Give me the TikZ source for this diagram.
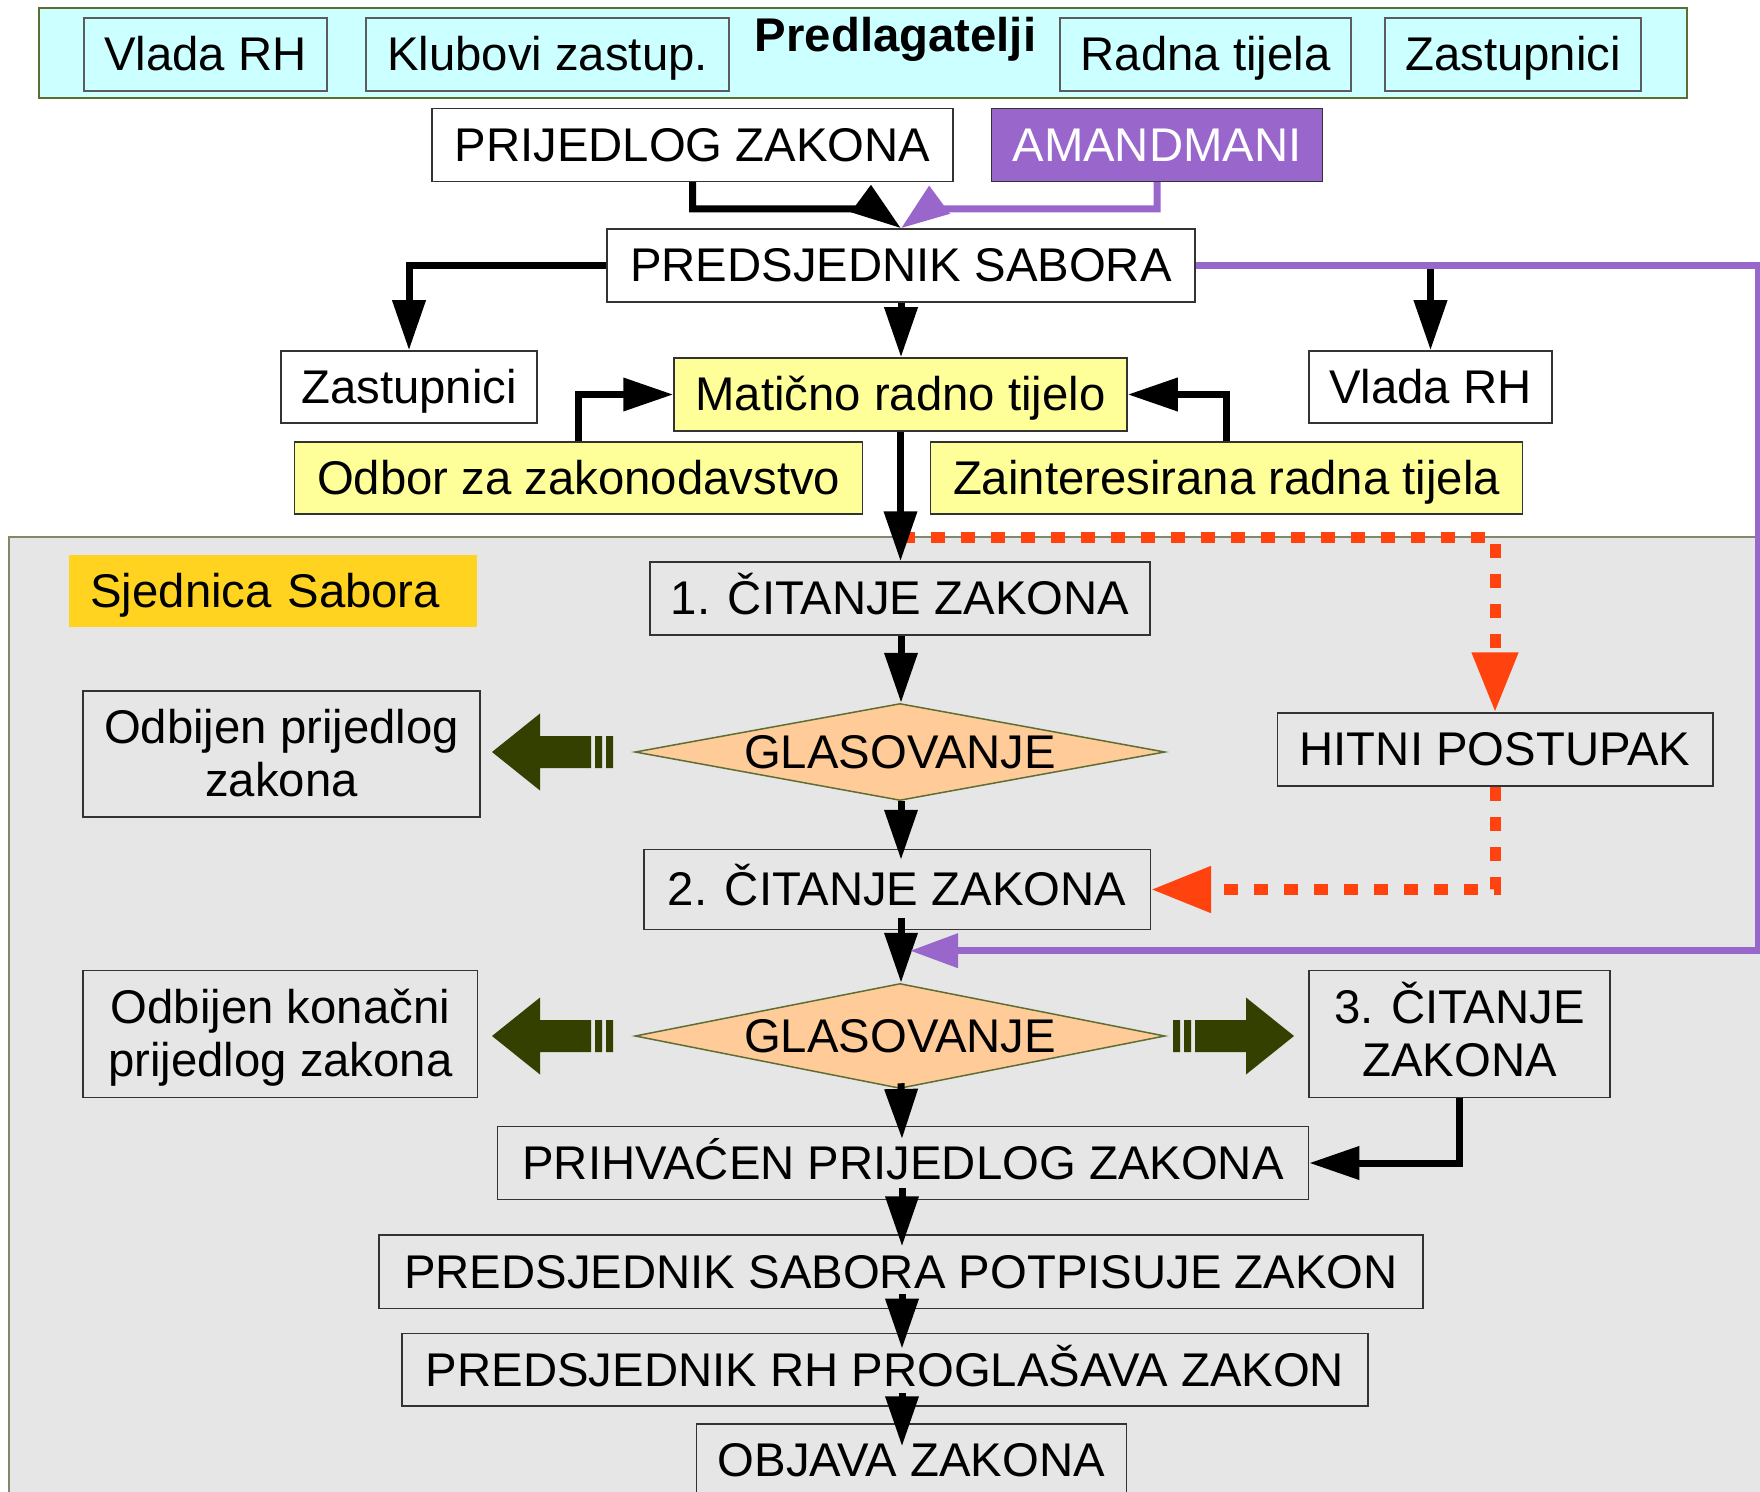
\documentclass[tikz,border=0pt]{standalone}
\usepackage{fontspec}
\setmainfont{Liberation Sans}
\usetikzlibrary{arrows.meta,shapes.geometric,calc}
\definecolor{cyanbg}{HTML}{CCFFFF}
\definecolor{olivebd}{HTML}{5E6E33}
\definecolor{boxbd}{HTML}{333333}
\definecolor{ylw}{HTML}{FFFF99}
\definecolor{sect}{HTML}{E6E6E6}
\definecolor{sectbd}{HTML}{7E8A6A}
\definecolor{purp}{HTML}{9966CC}
\definecolor{gold}{HTML}{FFD320}
\definecolor{peach}{HTML}{FFCC99}
\definecolor{redo}{HTML}{FF420E}
\definecolor{darkgr}{HTML}{334000}
\newcommand\fsz{\fontsize{23.65pt}{26.5pt}\selectfont}
\begin{document}
\begin{tikzpicture}[x=0.5pt,y=-0.5pt,
  every node/.style={font=\fsz},
  wh/.style 2 args={minimum width=#1*0.5pt,minimum height=#2*0.5pt},
  box/.style={draw=boxbd,line width=0.75pt,inner sep=0pt,text height=21.4pt,text depth=5pt},
  box2/.style={draw=boxbd,line width=0.75pt,inner sep=0pt,align=center,text height=47.9pt,text depth=5pt},
  dia/.style={diamond,draw=olivebd,line width=0.75pt,fill=peach,inner sep=0pt},
  txt/.style={inner sep=0pt,text height=21.4pt,text depth=5pt},
  conn/.style={draw=black,line width=3.5pt,-{Triangle[length=25pt,width=16pt]}},
  pconn/.style={draw=purp,line width=3.5pt,-{Triangle[length=24pt,width=16.5pt]}},
  reddash/.style={draw=redo,line width=5.5pt,dash pattern=on 7pt off 8pt,-{Triangle[length=30pt,width=22pt]}},
  striparrow/.pic={\fill[darkgr] (0,-16) rectangle (7,16) (11,-16) rectangle (18,16)
     (22,-16) -- (73,-16) -- (73,-38.5) -- (121,0) -- (73,38.5) -- (73,16) -- (22,16) -- cycle;}
]
\useasboundingbox (0,0) rectangle (1760,1492);
\clip (0,0) rectangle (1760,1492);

% section background
\fill[sect,draw=sectbd,line width=0.8pt] (9,537) rectangle (1800,1530);

% proposers
\node[box,fill=cyanbg,draw=olivebd,wh={1648}{90}] (predl) at (863,53) {};
\node[box,fill=cyanbg,draw=boxbd!80,wh={243}{73}] (vl1) at (205.5,54.5) {Vlada RH};
\node[box,fill=cyanbg,draw=boxbd!80,wh={363}{73}] (klub) at (547.5,54.5) {Klubovi zastup.};
\node[anchor=base,inner sep=0pt,font=\fsz\bfseries] (predlt) at (895.5,52) {Predlagatelji};
\node[box,fill=cyanbg,draw=boxbd!80,wh={291}{73}] (radna) at (1205.5,54.5) {Radna tijela};
\node[box,fill=cyanbg,draw=boxbd!80,wh={256}{73}] (zast1) at (1513,54.5) {Zastupnici};

\node[box,fill=white,wh={521}{73}] (prij) at (692.5,145) {PRIJEDLOG ZAKONA};
\node[box,fill=purp,text=white,wh={331}{73}] (amand) at (1157,145) {AMANDMANI};
\node[box,fill=white,wh={588}{73}] (psab) at (901,265.5) {PREDSJEDNIK SABORA};
\node[box,fill=white,wh={256}{72}] (zast2) at (409,387) {Zastupnici};
\node[box,fill=ylw,wh={453}{73}] (mat) at (900.5,394.5) {Matično radno tijelo};
\node[box,fill=white,wh={243}{72}] (vl2) at (1430.5,387) {Vlada RH};
\node[box,fill=ylw,wh={568}{72}] (odbor) at (578.7,478) {Odbor za zakonodavstvo};
\node[box,fill=ylw,wh={592}{72}] (zain) at (1226.5,478) {Zainteresirana radna tijela};

% session
\node[fill=gold,inner xsep=10.5pt,inner ysep=0pt,text width=183pt,align=left,
      text height=21.4pt,text depth=5pt,minimum height=36pt,anchor=west] (sjed) at (69,591) {Sjednica Sabora};
\node[box,fill=sect,wh={500}{73}] (cit1) at (900,598.5) {1. ČITANJE ZAKONA};
\node[dia,wh={530}{97}] (glas1) at (900,752) {};
\node[txt] (glas1t) at (glas1.center) {GLASOVANJE};
\node[box2,fill=sect,wh={397}{126}] (odb1) at (281.5,754) {Odbijen prijedlog\\zakona};
\node[box,fill=sect,wh={435.5}{73}] (hitni) at (1495,749.5) {HITNI POSTUPAK};
\node[box,fill=sect,wh={506.5}{80}] (cit2) at (897,889.5) {2. ČITANJE ZAKONA};
\node[dia,wh={530}{105}] (glas2) at (900,1036) {};
\node[txt] (glas2t) at (glas2.center) {GLASOVANJE};
\node[box2,fill=sect,wh={394.4}{126.6}] (odb2) at (280.4,1034) {Odbijen konačni\\prijedlog zakona};
\node[box2,fill=sect,wh={301}{126.6}] (cit3) at (1459.5,1034) {3. ČITANJE\\ZAKONA};
\node[box,fill=sect,wh={811}{72.6}] (prih) at (903,1163) {PRIHVAĆEN PRIJEDLOG ZAKONA};
\node[box,fill=sect,wh={1044}{73.3}] (potp) at (901,1271.7) {PREDSJEDNIK SABORA POTPISUJE ZAKON};
\node[box,fill=sect,wh={966}{72.7}] (progl) at (885,1369.7) {PREDSJEDNIK RH PROGLAŠAVA ZAKON};
\node[box,fill=sect,wh={430}{73}] (objava) at (911.4,1460.5) {OBJAVA ZAKONA};

% helper coordinates
\coordinate (col) at (901,0);
\coordinate (col2) at (902,0);
\coordinate (bk1) at (875,209);
\coordinate (bk2) at (927,209);
\coordinate (pc) at (1758,600);
\coordinate (pend) at (910,950.7);
\coordinate (rs) at (901,537.5);

% connectors top
\draw[conn] (prij.south) |- (bk1) -- (psab.north);
\draw[pconn] (amand.south) |- (bk2) -- (psab.north);
\draw[conn] (psab.west) -| (zast2.north);
\draw[conn] (psab.south) -- (psab.south |- mat.north);
\draw[conn] (psab.east) -| (vl2.north);
\draw[conn] (odbor.north) |- (mat.west);
\draw[conn] (zain.north) |- (mat.east);

% red fast track
\draw[reddash] (rs) -| (hitni.north);
\draw[reddash] (hitni.south) |- (cit2.east);

\draw[conn] (mat.south) -- (mat.south |- cit1.north);
\draw[conn] (col |- cit1.south) -- (col |- glas1.north);
\draw[conn] (col |- glas1.south) -- ($(col |- cit2.north)+(0,11)$);
\draw[conn] ($(col |- cit2.south)+(0,-12)$) -- (col |- glas2.north);
\draw[conn] ($(col |- glas2.south)+(0,-6)$) -- ($(col2 |- prih.north)+(0,13)$);
\draw[conn] ($(col2 |- prih.south)+(0,-12)$) -- ($(col2 |- potp.north)+(0,12)$);
\draw[conn] ($(col2 |- potp.south)+(0,-15)$) -- ($(col2 |- progl.north)+(0,16)$);
\draw[conn] ($(col2 |- progl.south)+(0,-14)$) -- ($(col2 |- objava.north)+(0,23)$);
\draw[conn] (cit3.south) |- (prih.east);

% amendments path
\draw[pconn] (psab.east) -| (pc) |- (pend);

% striped arrows
\pic[rotate=180] at (613,752) {striparrow};
\pic[rotate=180] at (613,1036) {striparrow};
\pic at (1173,1036) {striparrow};
\end{tikzpicture}
\end{document}
